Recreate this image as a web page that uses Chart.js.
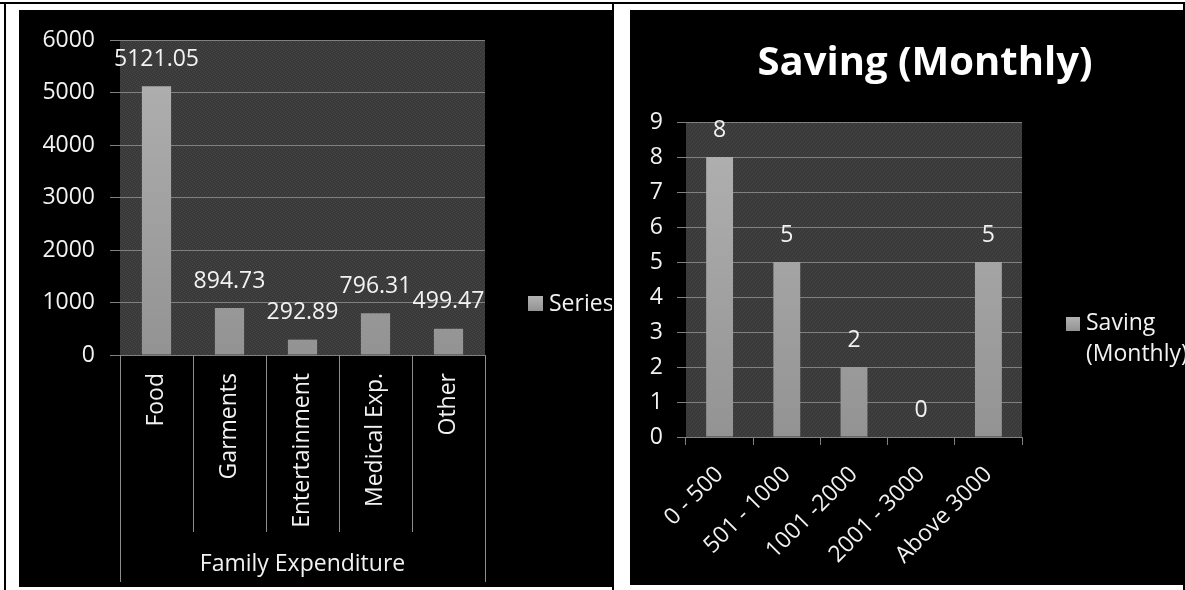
<!DOCTYPE html>
<html>
<head>
<meta charset="utf-8">
<title>Family Expenditure / Saving (Monthly)</title>
<script src="https://cdn.jsdelivr.net/npm/chart.js@4.4.1/dist/chart.umd.min.js"></script>
<style>
  body { margin: 0; background: #fff; width: 1185px; height: 590px; position: relative; overflow: hidden; }
  .rule { position: absolute; background: #000; }
  canvas { position: absolute; }
</style>
</head>
<body>
<!-- table rules around the two charts -->
<div class="rule" style="left:0;top:2px;width:1185px;height:2px"></div>
<div class="rule" style="left:4px;top:2px;width:2px;height:588px"></div>
<div class="rule" style="left:612px;top:2px;width:2px;height:588px"></div>
<div class="rule" style="left:1183px;top:2px;width:2px;height:588px"></div>

<canvas id="expenseChart" width="593" height="577" style="left:19px;top:10px"></canvas>
<canvas id="savingChart" width="555" height="575" style="left:630px;top:10px"></canvas>

<script>
// expenditure per head
const expenseLabels = ['Food', 'Garments', 'Entertainment', 'Medical Exp.', 'Other'];
const expenseValues = [5121.05, 894.73, 292.89, 796.31, 499.47];
const expenseTicks = [0, 1000, 2000, 3000, 4000, 5000, 6000];

// monthly saving groups
const savingLabels = ['0 - 500', '501 - 1000', '1001 -2000', '2001 - 3000', 'Above 3000'];
const savingValues = [8, 5, 2, 0, 5];
const savingTicks = [0, 1, 2, 3, 4, 5, 6, 7, 8, 9];

const FONT = "'Open Sans', sans-serif";
const TEXT = '#f2f2f2';
const GRID = '#808080';

// fine dotted texture for the plot background
function plotTexture(ctx) {
    const c = document.createElement('canvas');
    c.width = 4; c.height = 4;
    const g = c.getContext('2d');
    g.fillStyle = '#393939';
    g.fillRect(0, 0, 4, 4);
    g.fillStyle = '#454545';
    g.fillRect(0, 0, 1, 1); g.fillRect(2, 1, 1, 1);
    g.fillRect(1, 2, 1, 1); g.fillRect(3, 3, 1, 1);
    return ctx.createPattern(c, 'repeat');
}

function grayGradient(ctx, top, bottom) {
    const g = ctx.createLinearGradient(0, top, 0, bottom);
    g.addColorStop(0, '#b2b2b2');
    g.addColorStop(1, '#939393');
    return g;
}

function barFill(context) {
    const {ctx, chartArea} = context.chart;
    if (!chartArea) return '#a4a4a4';
    return grayGradient(ctx, chartArea.top, chartArea.bottom);
}

// black background + textured plot area
const frame = {
    id: 'frame',
    beforeDraw(chart) {
        const {ctx, chartArea: a} = chart;
        ctx.save();
        ctx.fillStyle = '#000';
        ctx.fillRect(0, 0, chart.width, chart.height);
        ctx.fillStyle = plotTexture(ctx);
        ctx.fillRect(a.left, a.top, a.right - a.left, a.bottom - a.top);
        ctx.restore();
    }
};

// value printed above each bar
const valueLabels = {
    id: 'valueLabels',
    afterDatasetsDraw(chart) {
        const {ctx} = chart;
        const meta = chart.getDatasetMeta(0);
        const values = chart.data.datasets[0].data;
        ctx.save();
        ctx.font = '23px ' + FONT;
        ctx.fillStyle = TEXT;
        ctx.textAlign = 'center';
        ctx.textBaseline = 'middle';
        meta.data.forEach((bar, i) => ctx.fillText(String(values[i]), bar.x, bar.y - 27));
        ctx.restore();
    }
};

// legend key on the right side
const keyLegend = {
    id: 'keyLegend',
    afterDraw(chart, args, o) {
        const {ctx} = chart;
        ctx.save();
        ctx.fillStyle = grayGradient(ctx, o.y, o.y + o.size);
        ctx.fillRect(o.x, o.y, o.size, o.size);
        ctx.font = '23px ' + FONT;
        ctx.fillStyle = TEXT;
        ctx.textAlign = 'left';
        ctx.textBaseline = 'alphabetic';
        o.lines.forEach((t, i) => ctx.fillText(t, o.x + o.size + 6, o.baseline + i * 31));
        ctx.restore();
    }
};

// chart heading
const heading = {
    id: 'heading',
    afterDraw(chart, args, o) {
        if (!o.text) return;
        const {ctx} = chart;
        ctx.save();
        ctx.font = 'bold 40px ' + FONT;
        ctx.fillStyle = '#fff';
        ctx.textAlign = 'center';
        ctx.textBaseline = 'alphabetic';
        ctx.fillText(o.text, o.x, o.y);
        ctx.restore();
    }
};

// category separators under the axis (outer ones run down past the group label)
const categoryDividers = {
    id: 'categoryDividers',
    afterDraw(chart, args, o) {
        const {ctx} = chart;
        const x = chart.scales.x;
        const n = chart.data.labels.length;
        const step = (x.right - x.left) / n;
        const top = chart.chartArea.bottom;
        ctx.save();
        ctx.strokeStyle = o.color;
        ctx.lineWidth = 1;
        ctx.beginPath();
        for (let i = 0; i <= n; i++) {
            const px = Math.round(x.left + i * step) + 0.5;
            const len = (i === 0 || i === n) ? o.outer : o.inner;
            ctx.moveTo(px, top);
            ctx.lineTo(px, top + len);
        }
        ctx.stroke();
        ctx.restore();
    }
};

const tickFont = {family: FONT, size: 23};
const plainNumber = value => String(value);

new Chart(document.getElementById('expenseChart'), {
    type: 'bar',
    data: {
        labels: expenseLabels,
        datasets: [{
            label: 'Series1',
            data: expenseValues,
            backgroundColor: barFill,
            borderWidth: 0,
            barPercentage: 0.4,
            categoryPercentage: 1
        }]
    },
    options: {
        responsive: false,
        animation: false,
        devicePixelRatio: 1,
        layout: {padding: {top: 30, right: 127, left: 0, bottom: 0}},
        scales: {
            x: {
                afterFit(scale) { scale.height = 232; },
                grid: {display: false, drawTicks: false, tickLength: 0},
                border: {display: false},
                ticks: {color: TEXT, font: tickFont, minRotation: 90, maxRotation: 90, padding: 18, autoSkip: false},
                title: {display: true, text: 'Family Expenditure', color: TEXT, font: tickFont, padding: {top: 0, bottom: 9}}
            },
            y: {
                min: expenseTicks[0],
                max: expenseTicks[expenseTicks.length - 1],
                afterFit(scale) { scale.width = 101; },
                grid: {color: GRID, lineWidth: 1, tickLength: 10},
                border: {display: false},
                ticks: {stepSize: expenseTicks[1] - expenseTicks[0], color: TEXT, font: tickFont, padding: 15, callback: plainNumber}
            }
        },
        plugins: {
            legend: {display: false},
            tooltip: {enabled: false},
            keyLegend: {x: 509, y: 286, size: 15, baseline: 301, lines: ['Series1']},
            categoryDividers: {color: '#8c8c8c', inner: 177, outer: 227}
        }
    },
    plugins: [frame, valueLabels, keyLegend, categoryDividers]
});

new Chart(document.getElementById('savingChart'), {
    type: 'bar',
    data: {
        labels: savingLabels,
        datasets: [{
            label: 'Saving (Monthly)',
            data: savingValues,
            backgroundColor: barFill,
            borderWidth: 0,
            barPercentage: 0.4,
            categoryPercentage: 1
        }]
    },
    options: {
        responsive: false,
        animation: false,
        devicePixelRatio: 1,
        layout: {padding: {top: 112, right: 163, left: 0, bottom: 0}},
        scales: {
            x: {
                afterFit(scale) { scale.height = 148; },
                grid: {color: GRID, drawOnChartArea: false, tickLength: 8},
                border: {display: false},
                ticks: {color: TEXT, font: tickFont, minRotation: 45, maxRotation: 45, padding: 16, autoSkip: false}
            },
            y: {
                min: savingTicks[0],
                max: savingTicks[savingTicks.length - 1],
                afterFit(scale) { scale.width = 56; },
                grid: {color: GRID, lineWidth: 1, tickLength: 9},
                border: {display: false},
                ticks: {stepSize: savingTicks[1] - savingTicks[0], color: TEXT, font: tickFont, padding: 14, callback: plainNumber}
            }
        },
        plugins: {
            legend: {display: false},
            tooltip: {enabled: false},
            heading: {text: 'Saving (Monthly)', x: 295, y: 65},
            keyLegend: {x: 436, y: 307, size: 14, baseline: 320, lines: ['Saving', '(Monthly)']}
        }
    },
    plugins: [frame, valueLabels, keyLegend, heading]
});
</script>
</body>
</html>
